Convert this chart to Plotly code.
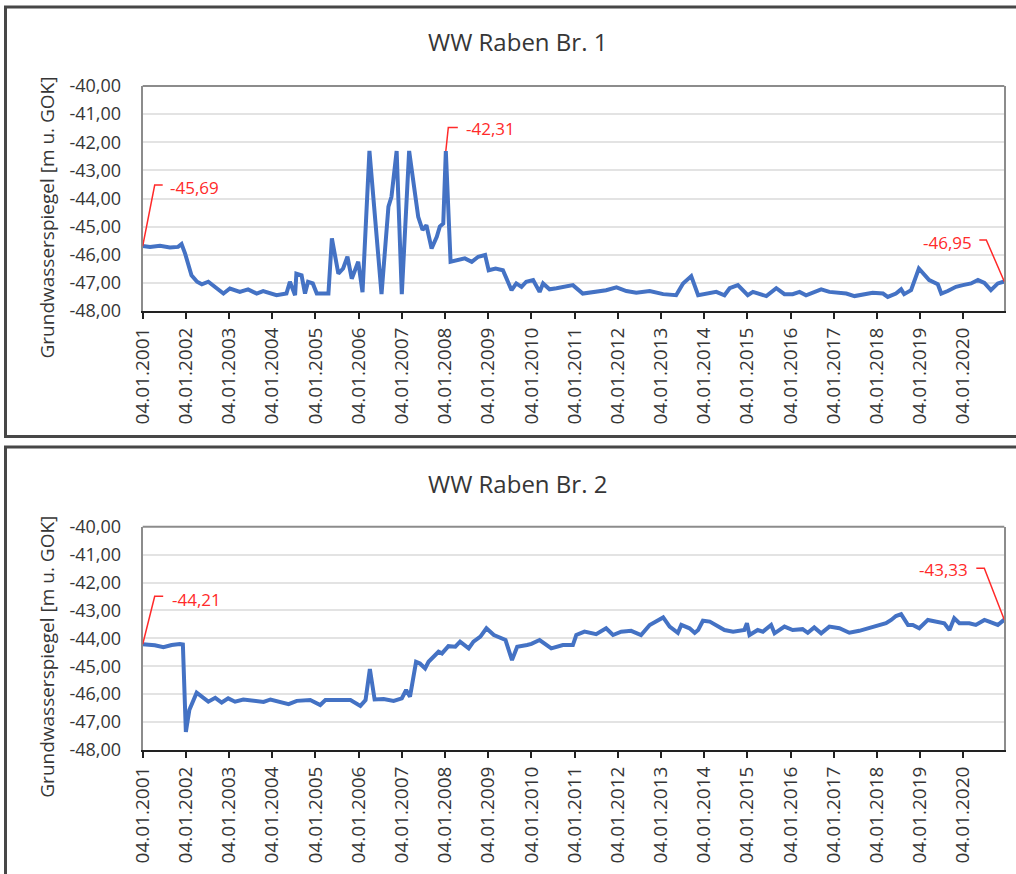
import pandas as pd
import plotly.graph_objects as go

# Water level readings (decimal year, m u. GOK)
top_years = [
    2001.00, 2001.17, 2001.40, 2001.63, 2001.82, 2001.90, 2001.98, 2002.13, 2002.26, 2002.37,
    2002.52, 2002.67, 2002.87, 2003.02, 2003.25, 2003.44, 2003.64, 2003.79, 2004.10, 2004.33,
    2004.41, 2004.53, 2004.56, 2004.68, 2004.76, 2004.83, 2004.94, 2005.03, 2005.30, 2005.38,
    2005.53, 2005.64, 2005.74, 2005.84, 2005.99, 2006.09, 2006.25, 2006.53, 2006.69, 2006.76,
    2006.88, 2007.00, 2007.17, 2007.38, 2007.48, 2007.57, 2007.69, 2007.81, 2007.88, 2007.96,
    2008.02, 2008.13, 2008.31, 2008.46, 2008.62, 2008.77, 2008.93, 2009.01, 2009.17, 2009.34,
    2009.54, 2009.65, 2009.77, 2009.88, 2010.04, 2010.19, 2010.27, 2010.42, 2010.58, 2010.73,
    2010.96, 2011.19, 2011.50, 2011.73, 2011.97, 2012.20, 2012.43, 2012.74, 2013.05, 2013.35,
    2013.51, 2013.70, 2013.86, 2014.05, 2014.28, 2014.47, 2014.59, 2014.78, 2015.01, 2015.13,
    2015.28, 2015.44, 2015.67, 2015.86, 2016.05, 2016.21, 2016.36, 2016.52, 2016.71, 2016.90,
    2017.13, 2017.29, 2017.48, 2017.67, 2017.90, 2018.14, 2018.25, 2018.44, 2018.56, 2018.63,
    2018.79, 2018.97, 2019.21, 2019.41, 2019.49, 2019.64, 2019.83, 2019.99, 2020.18, 2020.34,
    2020.49, 2020.64, 2020.80, 2020.95,
]
top_level = [
    -45.69, -45.72, -45.68, -45.74, -45.72, -45.62, -45.95, -46.73, -46.96, -47.05,
    -46.96, -47.14, -47.38, -47.20, -47.32, -47.23, -47.38, -47.29, -47.44, -47.38,
    -46.96, -47.44, -46.67, -46.73, -47.38, -46.96, -47.02, -47.38, -47.38, -45.42,
    -46.67, -46.49, -46.07, -46.85, -46.25, -47.33, -42.31, -47.40, -44.29, -43.94,
    -42.31, -47.40, -42.31, -44.65, -45.12, -44.95, -45.78, -45.36, -45.00, -44.89,
    -42.31, -46.25, -46.19, -46.13, -46.25, -46.07, -46.01, -46.55, -46.49, -46.55,
    -47.26, -47.02, -47.14, -46.96, -46.90, -47.32, -47.02, -47.23, -47.19, -47.14,
    -47.08, -47.38, -47.32, -47.26, -47.16, -47.29, -47.35, -47.29, -47.40, -47.44,
    -47.02, -46.76, -47.44, -47.38, -47.32, -47.44, -47.19, -47.08, -47.44, -47.32,
    -47.38, -47.47, -47.19, -47.40, -47.40, -47.32, -47.44, -47.35, -47.23, -47.32,
    -47.35, -47.38, -47.47, -47.40, -47.35, -47.38, -47.50, -47.38, -47.23, -47.40,
    -47.26, -46.49, -46.90, -47.05, -47.38, -47.29, -47.14, -47.08, -47.02, -46.90,
    -47.00, -47.26, -47.02, -46.95,
]

bottom_years = [
    2001.00, 2001.28, 2001.48, 2001.67, 2001.86, 2001.93, 2002.00, 2002.08, 2002.25, 2002.52,
    2002.68, 2002.83, 2002.98, 2003.14, 2003.33, 2003.57, 2003.80, 2003.96, 2004.19, 2004.38,
    2004.57, 2004.88, 2005.11, 2005.23, 2005.50, 2005.81, 2006.04, 2006.16, 2006.26, 2006.37,
    2006.58, 2006.81, 2007.00, 2007.10, 2007.19, 2007.33, 2007.42, 2007.54, 2007.62, 2007.73,
    2007.85, 2007.93, 2008.08, 2008.24, 2008.35, 2008.55, 2008.66, 2008.82, 2008.96, 2009.13,
    2009.28, 2009.40, 2009.55, 2009.67, 2009.90, 2010.00, 2010.19, 2010.46, 2010.73, 2010.96,
    2011.04, 2011.23, 2011.50, 2011.73, 2011.89, 2012.08, 2012.31, 2012.54, 2012.74, 2013.05,
    2013.20, 2013.39, 2013.47, 2013.66, 2013.78, 2013.86, 2013.97, 2014.13, 2014.47, 2014.67,
    2014.93, 2014.99, 2015.05, 2015.24, 2015.36, 2015.55, 2015.63, 2015.86, 2016.05, 2016.28,
    2016.40, 2016.55, 2016.71, 2016.90, 2017.13, 2017.36, 2017.59, 2017.82, 2018.06, 2018.21,
    2018.33, 2018.44, 2018.56, 2018.72, 2018.83, 2018.98, 2019.18, 2019.41, 2019.56, 2019.68,
    2019.79, 2019.91, 2020.14, 2020.29, 2020.49, 2020.60, 2020.80, 2020.95,
]
bottom_level = [
    -44.21, -44.25, -44.32, -44.24, -44.20, -44.22, -47.35, -46.57, -45.95, -46.27,
    -46.13, -46.30, -46.15, -46.27, -46.19, -46.24, -46.28, -46.19, -46.27, -46.36,
    -46.24, -46.21, -46.39, -46.21, -46.21, -46.21, -46.42, -46.21, -45.10, -46.19,
    -46.17, -46.24, -46.15, -45.85, -46.09, -44.84, -44.90, -45.08, -44.84, -44.66,
    -44.48, -44.54, -44.28, -44.30, -44.12, -44.36, -44.12, -43.94, -43.64, -43.88,
    -43.96, -44.06, -44.78, -44.30, -44.24, -44.20, -44.06, -44.36, -44.24, -44.24,
    -43.88, -43.76, -43.85, -43.64, -43.88, -43.76, -43.73, -43.88, -43.52, -43.25,
    -43.58, -43.80, -43.52, -43.64, -43.80, -43.70, -43.37, -43.40, -43.70, -43.76,
    -43.70, -43.46, -43.88, -43.70, -43.76, -43.52, -43.82, -43.58, -43.70, -43.67,
    -43.80, -43.61, -43.82, -43.58, -43.64, -43.80, -43.73, -43.64, -43.52, -43.46,
    -43.34, -43.20, -43.13, -43.52, -43.52, -43.64, -43.34, -43.40, -43.46, -43.70,
    -43.28, -43.46, -43.46, -43.52, -43.34, -43.40, -43.52, -43.33,
]

tick_years = list(range(2001, 2021))
tick_labels = [f"04.01.{y}" for y in tick_years]
y_ticks = [-40, -41, -42, -43, -44, -45, -46, -47, -48]
y_tick_labels = [f"{v},00" for v in y_ticks]

titles = ["WW Raben Br. 1", "WW Raben Br. 2"]
y_title = "Grundwasserspiegel [m u. GOK]"


def to_date(yr):
    # decimal year counted from the 4th of January
    base = pd.Timestamp(int(yr), 1, 4)
    return base + pd.Timedelta(days=(yr - int(yr)) * 365.25)


top_dates = [to_date(v) for v in top_years]
bottom_dates = [to_date(v) for v in bottom_years]
tick_dates = [pd.Timestamp(y, 1, 4) for y in tick_years]

W, H = 1016, 874
blue = "#4472C4"
red = "#FF2A2A"
txt = "#363636"
font = "Open Sans"

fig = go.Figure()
fig.add_trace(go.Scatter(x=top_dates, y=top_level, mode="lines",
                         line=dict(color=blue, width=4), xaxis="x", yaxis="y",
                         showlegend=False))
fig.add_trace(go.Scatter(x=bottom_dates, y=bottom_level, mode="lines",
                         line=dict(color=blue, width=4), xaxis="x2", yaxis="y2",
                         showlegend=False))

x_dom = [142.7 / W, 1004.3 / W]
top_dom = [1 - 311 / H, 1 - 86 / H]
bot_dom = [1 - 750 / H, 1 - 526.7 / H]
x_range = [tick_dates[0], max(top_dates[-1], bottom_dates[-1])]

xcommon = dict(
    type="date", domain=x_dom, range=x_range, automargin=False,
    tickmode="array", tickvals=tick_dates, ticktext=tick_labels,
    tickangle=-90, ticks="outside", ticklen=6, tickwidth=2, tickcolor="#222",
    showline=True, linecolor="#222", linewidth=2, showgrid=False, zeroline=False,
    tickfont=dict(family=font, size=19, color=txt), ticklabelstandoff=1,
)
ycommon = dict(
    range=[-48, -40], automargin=False,
    tickmode="array", tickvals=y_ticks, ticktext=y_tick_labels,
    showline=True, linecolor="#8C8C8C", linewidth=2, mirror=True,
    gridcolor="#E3E3E3", gridwidth=2, zeroline=False,
    ticks="outside", ticklen=16, tickcolor="rgba(0,0,0,0)",
    tickfont=dict(family=font, size=18, color=txt),
)

fig.update_layout(
    width=W, height=H, autosize=False,
    margin=dict(l=0, r=0, t=0, b=0, pad=0),
    paper_bgcolor="white", plot_bgcolor="white", showlegend=False,
    xaxis=dict(anchor="y", **xcommon),
    yaxis=dict(anchor="x", domain=top_dom, **ycommon),
    xaxis2=dict(anchor="y2", **xcommon),
    yaxis2=dict(anchor="x2", domain=bot_dom, **ycommon),
)

shapes = []
# outer chart frames
shapes.append(dict(type="rect", xref="paper", yref="paper",
                   x0=5.5 / W, x1=1.02, y0=1 - 436.5 / H, y1=1 - 7 / H,
                   line=dict(color="#474747", width=3)))
shapes.append(dict(type="rect", xref="paper", yref="paper",
                   x0=5.5 / W, x1=1.02, y0=-0.02, y1=1 - 447 / H,
                   line=dict(color="#474747", width=3)))
# grey top border of the plot areas
for dom in (top_dom, bot_dom):
    shapes.append(dict(type="line", xref="paper", yref="paper",
                       x0=x_dom[0], x1=x_dom[1], y0=dom[1], y1=dom[1],
                       line=dict(color="#8C8C8C", width=2)))

# value labels with leader lines: (axis, dates, values, index, path, xshift, yshift, anchor)
callouts = [
    ("", top_dates, top_level, 0, "M0,0 L12,61 L20,61", 25, 59, "left"),
    ("", top_dates, top_level, 50, "M0,0 L2.5,23.5 L12,23.5", 18, 22, "left"),
    ("", top_dates, top_level, len(top_level) - 1, "M0,0 L-18,41.5 L-25,41.5", -30, 39, "right"),
    ("2", bottom_dates, bottom_level, 0, "M0,0 L12,48 L20.5,48", 27, 45, "left"),
    ("2", bottom_dates, bottom_level, len(bottom_level) - 1, "M0,0 L-20,51.5 L-28,51.5", -34, 50, "right"),
]
annotations = []
for ax, dates, vals, i, path, xs, ys, anc in callouts:
    shapes.append(dict(type="path", xref="x" + ax, yref="y" + ax,
                       xsizemode="pixel", ysizemode="pixel",
                       xanchor=dates[i], yanchor=vals[i], path=path,
                       line=dict(color=red, width=1.5)))
    annotations.append(dict(xref="x" + ax, yref="y" + ax, x=dates[i], y=vals[i],
                            text=f"{vals[i]:.2f}".replace(".", ","), showarrow=False,
                            xshift=xs, yshift=ys, xanchor=anc, yanchor="middle",
                            font=dict(family=font, size=17, color=red)))

for title, ty, yt in ((titles[0], 1 - 41.7 / H, 1 - 217.5 / H),
                      (titles[1], 1 - 483.5 / H, 1 - 656.7 / H)):
    annotations.append(dict(xref="paper", yref="paper", x=517.5 / W, y=ty,
                            text=title, showarrow=False, xanchor="center", yanchor="middle",
                            font=dict(family=font, size=24, color=txt)))
    annotations.append(dict(xref="paper", yref="paper", x=47 / W, y=yt,
                            text=y_title, showarrow=False, textangle=-90,
                            xanchor="center", yanchor="middle",
                            font=dict(family=font, size=19, color=txt)))

fig.update_layout(shapes=shapes, annotations=annotations)

# drop the default page margin so the figure sits at the window corner
fig.write_html("out.html", config={"displayModeBar": False},
               post_script="document.body.style.margin='0px';")
